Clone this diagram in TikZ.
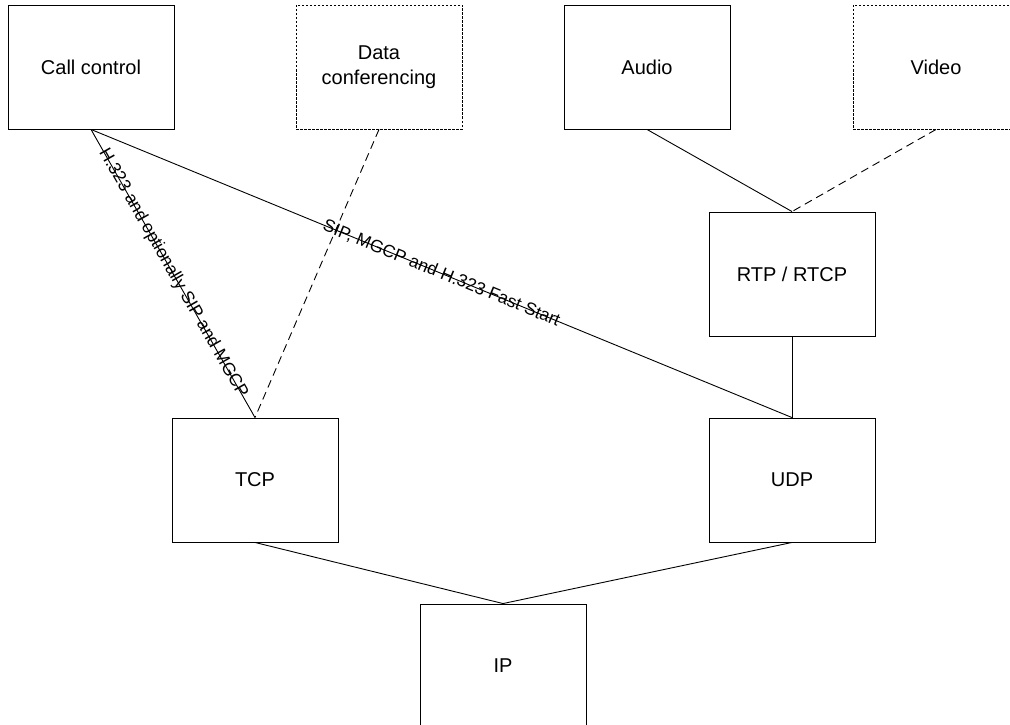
\documentclass[tikz,border=0pt]{standalone}
\usepackage{fontspec}
\setmainfont{Liberation Sans}
\begin{document}
\begin{tikzpicture}[x=1pt,y=-1pt,
  box/.style={draw, line width=0.9pt, minimum width=166pt, minimum height=124pt, inner sep=0pt, align=center, font=\fontsize{20}{25}\selectfont},
  optbox/.style={box, dash pattern=on 2.5pt off 1.5pt},
  link/.style={line width=0.9pt},
  optlink/.style={link, dash pattern=on 8pt off 5pt},
  lbl/.style={sloped, inner sep=0pt, font=\fontsize{17.5}{20}\selectfont}]
\useasboundingbox (0,0) rectangle (1010,725);
\clip (0,0) rectangle (1010,725);
\node[box] (cc) at (91,67) {Call control};
\node[optbox] (dc) at (379,67) {Data\\conferencing};
\node[box] (au) at (647,67) {Audio};
\node[optbox] (vi) at (936,67) {Video};
\node[box] (rtp) at (792,274) {RTP / RTCP};
\node[box] (tcp) at (255,480) {TCP};
\node[box] (udp) at (792,480) {UDP};
\node[box] (ip) at (503,666) {IP};
\draw[link] (cc.south) -- node[lbl] {H.323 and optionally SIP and MGCP} (tcp.north);
\draw[link] (cc.south) -- node[lbl] {SIP, MGCP and H.323 Fast Start} (udp.north);
\draw[optlink] (dc.south) -- (tcp.north);
\draw[link] (au.south) -- (rtp.north);
\draw[optlink] (vi.south) -- (rtp.north);
\draw[link] (rtp.south) -- (udp.north);
\draw[link] (tcp.south) -- (ip.north);
\draw[link] (udp.south) -- (ip.north);
\end{tikzpicture}
\end{document}
